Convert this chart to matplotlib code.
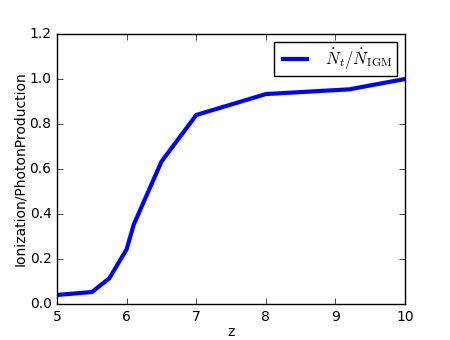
import matplotlib
matplotlib.use('Agg')
import matplotlib.pyplot as plt

plt.style.use('classic')
plt.rcParams['font.size'] = 10

# ionization / photon production vs redshift
z = [5.0, 5.5, 5.75, 6.0, 6.1, 6.5, 7.0, 8.0, 9.2, 10.0]
ratio = [0.040, 0.053, 0.114, 0.244, 0.352, 0.633, 0.840, 0.933, 0.954, 1.0]

fig = plt.figure(figsize=(4.5, 3.4), dpi=100)
fig.subplots_adjust(left=0.127, right=0.9, bottom=0.106, top=0.9)
ax = fig.add_subplot(111)
ax.plot(z, ratio, color='blue', linewidth=3, label=r'$\dot{N}_t/\dot{N}_{\rm IGM}$')

ax.set_xlim(5, 10)
ax.set_ylim(0, 1.2)
ax.set_xlabel('z', labelpad=1)
ax.set_ylabel('Ionization/PhotonProduction', labelpad=1.5)
ax.legend(loc='upper right', fontsize=12, borderpad=0.25)

fig.savefig('out.png', dpi=100)
